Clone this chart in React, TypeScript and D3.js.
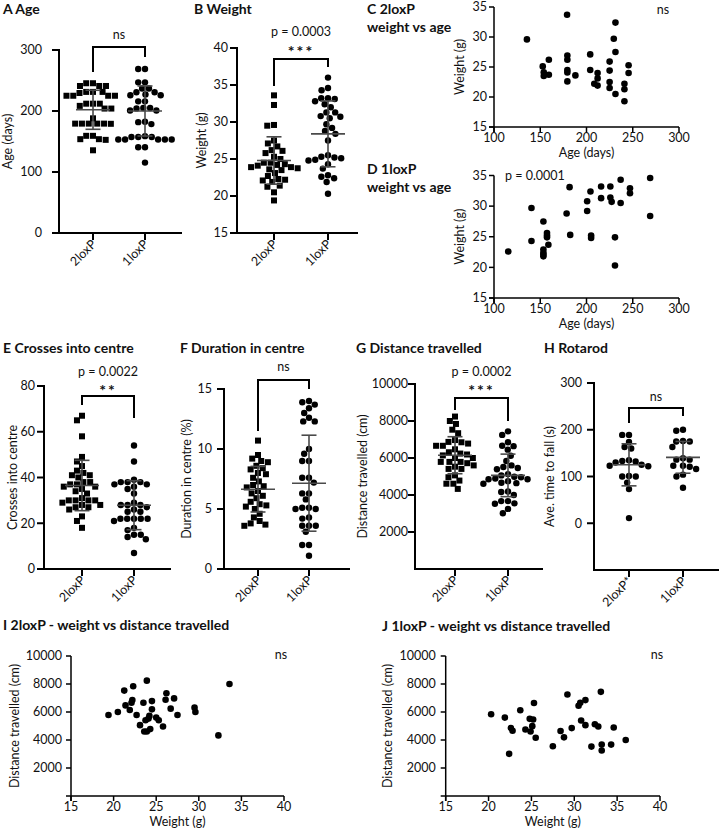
import React from "react";
import * as d3 from "d3";

const FONT = "Lato, 'Open Sans', Arial, sans-serif";

// ---------- categories ----------
const groups = ["2loxP", "1loxP"];
const groupsRotarod = ["2loxP*", "1loxP"];

// ---------- C: 2loxP weight vs age ----------
const ageC2 = [135.6, 179, 152.7, 153.8, 153.8, 159.3, 159.3, 179.3, 179.3, 179.3, 179.3, 179.3, 188, 204, 204, 208.4, 212, 212, 212, 225, 225, 225, 225, 229.5, 231.3, 231.3, 231.3, 241, 241, 241, 245.5, 245.5];
const weightC2 = [29.6, 33.7, 25.1, 24.1, 23.5, 23.7, 26.2, 26.9, 26.2, 24.5, 24.1, 22.6, 23.6, 27.1, 24.5, 22.2, 24.0, 23.1, 21.9, 25.9, 24.4, 22.5, 21.5, 29.7, 32.4, 27.5, 20.5, 22.2, 21.3, 19.3, 25.3, 24.0];

// ---------- D: 1loxP weight vs age ----------
const ageD1 = [115.4, 140.5, 140.5, 153.4, 153.4, 153.4, 153.4, 153.4, 157.3, 157.3, 157.3, 158.8, 178.5, 181.7, 182.4, 200.7, 200.7, 204.3, 205, 205, 215.8, 215.8, 225.8, 225.8, 227.2, 230.8, 230.8, 236.9, 236.9, 247, 247, 268.8, 268.8];
const weightD1 = [22.6, 29.7, 24.3, 27.5, 22.9, 22.4, 22.1, 21.8, 25.6, 25.2, 24.9, 23.7, 28.8, 33.1, 25.3, 30.8, 29.2, 32.4, 25.2, 24.8, 33.2, 31.3, 33.2, 31.4, 30.7, 24.9, 20.3, 34.3, 30.5, 32.9, 32.1, 34.6, 28.4];

// ---------- I: 2loxP weight vs distance ----------
const weightI2 = [19.4, 20.5, 21.25, 21.4, 21.9, 22.1, 22.2, 22.3, 22.7, 23.1, 23.5, 23.6, 23.75, 23.9, 23.9, 24.1, 24.2, 24.3, 24.5, 24.5, 25.0, 25.3, 25.8, 26.1, 26.2, 26.7, 27.1, 27.5, 29.5, 29.6, 32.3, 33.6];
const distI2 = [5790, 6000, 7530, 6470, 6140, 6660, 6850, 7840, 5790, 5060, 6660, 4610, 5410, 4610, 8240, 5530, 5720, 4780, 6780, 6190, 5600, 5410, 4960, 6870, 7340, 6240, 6970, 5790, 6310, 6000, 4330, 8000];

// ---------- J: 1loxP weight vs distance ----------
const weightJ1 = [20.3, 21.9, 22.4, 22.6, 22.8, 23.7, 24.3, 24.8, 24.9, 25.1, 25.2, 25.3, 25.5, 27.5, 28.4, 28.8, 29.2, 29.7, 30.5, 30.7, 30.8, 31.3, 31.3, 32.0, 32.4, 32.8, 33.1, 33.2, 33.2, 34.3, 34.6, 36.0];
const distJ1 = [5840, 5600, 3010, 4850, 4660, 6120, 4750, 5510, 4610, 4990, 5460, 6640, 4160, 3550, 4640, 4190, 7250, 4850, 6450, 6660, 5390, 6850, 5060, 3530, 5130, 4960, 7440, 3670, 3250, 3670, 4890, 4000];

// ---------- E, F, H dot plot values ----------
const crosses2 = [67, 65, 58, 49, 47, 45, 43, 42, 41, 41, 40, 38, 38, 37, 37, 36, 36, 35, 34, 33, 31, 30, 30, 30, 30, 29, 28, 28, 27, 27, 26, 23, 21, 18];
const crosses1 = [54, 47, 39, 38, 38, 38, 37, 37, 36, 35, 33, 29, 28, 28, 28, 27, 26, 25, 25, 22, 22, 22, 22, 22, 21, 18, 17, 15, 15, 14, 13, 7];
const duration2 = [10.7, 9.5, 9.2, 9.0, 8.9, 8.6, 8.4, 8.3, 8.0, 7.9, 7.6, 7.3, 7.0, 6.9, 6.8, 6.5, 6.3, 6.1, 5.9, 5.6, 5.4, 5.3, 5.2, 5.0, 4.6, 4.3, 4.0, 3.8, 3.7, 3.6];
const duration1 = [14.0, 13.9, 13.7, 13.4, 13.0, 12.6, 12.3, 12.3, 10.0, 9.6, 9.0, 9.0, 7.6, 7.6, 7.2, 6.3, 6.3, 5.8, 5.1, 5.1, 5.0, 5.0, 4.3, 4.2, 3.6, 3.6, 3.6, 3.1, 2.0, 2.0, 1.1];
const rotarod2 = [189, 189, 174, 163, 160, 135, 133, 132, 130, 125, 123, 122, 101, 100, 100, 87, 73, 11];
const rotarod1 = [200, 198, 176, 175, 175, 163, 139, 136, 136, 123, 123, 121, 116, 104, 100, 76];

// ---------- mean ± SD ----------
const ageMean = [202, 200];
const ageSD = [32, 41];
const weightMean = [24.8, 28.4];
const weightSD = [3.2, 4.45];
const crossesMean = [36.5, 27.9];
const crossesSD = [11, 10.7];
const durationMean = [6.65, 7.15];
const durationSD = [1.9, 4.0];
const distMean = [6150, 5060];
const distSD = [1000, 1150];
const rotarodMean = [125, 141];
const rotarodSD = [45, 34];

// ---------- ticks ----------
const ageTicks = [0, 100, 200, 300];
const weightTicks = [15, 20, 25, 30, 35, 40];
const crossesTicks = [0, 20, 40, 60, 80];
const durationTicks = [0, 5, 10, 15];
const distTicks = [2000, 4000, 6000, 8000, 10000];
const rotarodTicks = [0, 100, 200, 300];
const scAgeTicks = [100, 150, 200, 250, 300];
const scWeightYTicks = [15, 20, 25, 30, 35];
const scWeightXTicks = [15, 20, 25, 30, 35, 40];
const scDistTicks = [2000, 4000, 6000, 8000, 10000];

function swarmOffsets(values: number[], y: (v: number) => number, d: number): number[] {
  const idx = values.map((_, i) => i).sort((a, b) => values[b] - values[a]);
  const placed: { x: number; y: number }[] = [];
  const offs = new Array(values.length).fill(0);
  for (const i of idx) {
    const py = y(values[i]);
    const iv: [number, number][] = [];
    for (const p of placed) {
      const dy = Math.abs(p.y - py);
      if (dy < d) {
        const dx = Math.sqrt(d * d - dy * dy);
        iv.push([p.x - dx, p.x + dx]);
      }
    }
    const cands = [0, ...iv.flatMap(([a, b]) => [a, b])].sort((a, b) => Math.abs(a) - Math.abs(b) || a - b);
    let best = 0;
    for (const c of cands) {
      if (iv.every(([a, b]) => c <= a + 1e-6 || c >= b - 1e-6)) {
        best = c;
        break;
      }
    }
    offs[i] = best;
    placed.push({ x: best, y: py });
  }
  return offs;
}

type DotProps = {
  title: string; titleX: number; titleY: number;
  left: number; right: number; top: number; bottom: number;
  domain: [number, number]; ticks: number[];
  cats: string[]; catRange: [number, number];
  data: number[][]; means: number[]; sds: number[];
  shapes: string[];
  ylabel: string; ylabelX: number;
  labelGap: number;
  bracketTop: number; legs: [number, number];
  texts: { t: string; y: number; bold?: boolean; size?: number }[];
};

function DotPlot(p: DotProps) {
  const y = d3.scaleLinear().domain(p.domain).range([p.bottom, p.top]);
  const x = d3.scalePoint<string>().domain(p.cats).range(p.catRange);
  const axisY = p.bottom;
  const mid = ((x(p.cats[0]) as number) + (x(p.cats[1]) as number)) / 2;
  return (
    <g>
      <text x={p.titleX} y={p.titleY} fontWeight="bold" fontSize={14}>{p.title}</text>
      <line x1={p.left} x2={p.left} y1={p.top - 1} y2={axisY + 1} stroke="#000" strokeWidth={2} />
      <line x1={p.left - 1} x2={p.right} y1={axisY} y2={axisY} stroke="#000" strokeWidth={2} />
      {p.ticks.map((t) => (
        <g key={t}>
          <line x1={p.left - 7} x2={p.left} y1={y(t)} y2={y(t)} stroke="#000" strokeWidth={2} />
          <text x={p.left - p.labelGap} y={y(t) + 4.3} textAnchor="end" fontSize={12.5}>{t}</text>
        </g>
      ))}
      <text transform={`translate(${p.ylabelX},${(p.top + axisY) / 2}) rotate(-90)`} textAnchor="middle" fontSize={12.5}>{p.ylabel}</text>
      {p.cats.map((c) => (
        <g key={c}>
          <line x1={x(c)} x2={x(c)} y1={axisY} y2={axisY + 7} stroke="#000" strokeWidth={2} />
          <text transform={`translate(${(x(c) as number) + 4},${axisY + 12}) rotate(-45)`} textAnchor="end" fontSize={12.5}>{c}</text>
        </g>
      ))}
      {p.data.map((vals, gi) => {
        const offs = swarmOffsets(vals, y, 6.8);
        const cx = x(p.cats[gi]) as number;
        return vals.map((v, i) =>
          p.shapes[gi] === "square" ? (
            <rect key={gi + "-" + i} x={cx + offs[i] - 3} y={y(v) - 3} width={6} height={6} fill="#000" />
          ) : (
            <circle key={gi + "-" + i} cx={cx + offs[i]} cy={y(v)} r={3.2} fill="#000" />
          )
        );
      })}
      {p.means.map((m, gi) => {
        const cx = x(p.cats[gi]) as number;
        const s = p.sds[gi];
        return (
          <g key={"m" + gi} stroke="#4a4a4a" strokeWidth={1.6}>
            <line x1={cx - 17} x2={cx + 17} y1={y(m)} y2={y(m)} />
            <line x1={cx} x2={cx} y1={y(m - s)} y2={y(m + s)} />
            <line x1={cx - 7.5} x2={cx + 7.5} y1={y(m + s)} y2={y(m + s)} />
            <line x1={cx - 7.5} x2={cx + 7.5} y1={y(m - s)} y2={y(m - s)} />
          </g>
        );
      })}
      <path
        d={`M${x(p.cats[0])},${p.legs[0]}V${p.bracketTop}H${x(p.cats[1])}V${p.legs[1]}`}
        fill="none" stroke="#000" strokeWidth={2}
      />
      {p.texts.map((t, i) => (
        <text key={i} x={mid} y={t.y} textAnchor="middle" fontWeight={t.bold ? "bold" : "normal"} fontSize={t.size ?? 12.5} letterSpacing={t.bold ? 2 : 0}>{t.t}</text>
      ))}
    </g>
  );
}

type ScProps = {
  titles: string[]; titleX: number; titleY: number;
  left: number; right: number; top: number; bottom: number;
  xDomain: [number, number]; yDomain: [number, number];
  xTicks: number[]; yTicks: number[];
  xs: number[]; ys: number[];
  xlabel: string; ylabel: string; ylabelX: number;
  note: string; noteX: number; noteY: number; noteAnchor: string;
  yLabelGap: number;
};

function Scatter(p: ScProps) {
  const x = d3.scaleLinear().domain(p.xDomain).range([p.left, p.right]);
  const y = d3.scaleLinear().domain(p.yDomain).range([p.bottom, p.top]);
  return (
    <g>
      {p.titles.map((t, i) => (
        <text key={i} x={p.titleX} y={p.titleY + i * 18} fontWeight="bold" fontSize={14}>{t}</text>
      ))}
      <line x1={p.left} x2={p.left} y1={p.top} y2={p.bottom + 5} stroke="#000" strokeWidth={1.5} />
      <line x1={p.left - 5} x2={p.right} y1={p.bottom} y2={p.bottom} stroke="#000" strokeWidth={1.5} />
      {p.yTicks.map((t) => (
        <g key={"y" + t}>
          <line x1={p.left - 5} x2={p.left} y1={y(t)} y2={y(t)} stroke="#000" strokeWidth={1.5} />
          <text x={p.left - p.yLabelGap} y={y(t) + 4.3} textAnchor="end" fontSize={12.5}>{t}</text>
        </g>
      ))}
      {p.xTicks.map((t) => (
        <g key={"x" + t}>
          <line x1={x(t)} x2={x(t)} y1={p.bottom} y2={p.bottom + 5} stroke="#000" strokeWidth={1.5} />
          <text x={x(t)} y={p.bottom + 15} textAnchor="middle" fontSize={12.5}>{t}</text>
        </g>
      ))}
      <text x={(p.left + p.right) / 2} y={p.bottom + 29.5} textAnchor="middle" fontSize={12.5}>{p.xlabel}</text>
      <text transform={`translate(${p.ylabelX},${(p.top + p.bottom) / 2}) rotate(-90)`} textAnchor="middle" fontSize={12.5}>{p.ylabel}</text>
      {p.xs.map((v, i) => (
        <circle key={i} cx={x(v)} cy={y(p.ys[i])} r={3.3} fill="#000" />
      ))}
      <text x={p.noteX} y={p.noteY} textAnchor={p.noteAnchor} fontSize={12.5}>{p.note}</text>
    </g>
  );
}

export default function App() {
  return (
    <svg
      width={722}
      height={833}
      viewBox="0 0 722 833"
      style={{ position: "absolute", left: 0, top: 0, background: "#fff", fontFamily: FONT }}
      fill="#111"
    >
      <rect width={722} height={833} fill="#fff" />
      <DotPlot
        title="A Age" titleX={3} titleY={14}
        left={59} right={182} top={50} bottom={233}
        domain={[0, 300]} ticks={ageTicks}
        cats={groups} catRange={[93, 145]}
        data={[ageC2, ageD1]} means={ageMean} sds={ageSD}
        shapes={["square", "circle"]}
        ylabel="Age (days)" ylabelX={12} labelGap={17}
        bracketTop={47} legs={[72, 57]}
        texts={[{ t: "ns", y: 39 }]}
      />
      <DotPlot
        title="B Weight" titleX={194} titleY={14}
        left={237} right={358} top={48} bottom={233}
        domain={[15, 40]} ticks={weightTicks}
        cats={groups} catRange={[274, 328]}
        data={[weightI2, weightJ1]} means={weightMean} sds={weightSD}
        shapes={["square", "circle"]}
        ylabel="Weight (g)" ylabelX={206} labelGap={9}
        bracketTop={59} legs={[86, 67]}
        texts={[{ t: "p = 0.0003", y: 36 }, { t: "***", y: 57, bold: true, size: 16 }]}
      />
      <Scatter
        titles={["C 2loxP", "weight vs age"]} titleX={367} titleY={14}
        left={494} right={679} top={7} bottom={127}
        xDomain={[100, 300]} yDomain={[15, 35]}
        xTicks={scAgeTicks} yTicks={scWeightYTicks}
        xs={ageC2} ys={weightC2}
        xlabel="Age (days)" ylabel="Weight (g)" ylabelX={464}
        note="ns" noteX={663} noteY={14} noteAnchor="middle" yLabelGap={7}
      />
      <Scatter
        titles={["D 1loxP", "weight vs age"]} titleX={367} titleY={174}
        left={494} right={679} top={175.5} bottom={298}
        xDomain={[100, 300]} yDomain={[15, 35]}
        xTicks={scAgeTicks} yTicks={scWeightYTicks}
        xs={ageD1} ys={weightD1}
        xlabel="Age (days)" ylabel="Weight (g)" ylabelX={464}
        note="p = 0.0001" noteX={505} noteY={180} noteAnchor="start" yLabelGap={7}
      />
      <DotPlot
        title="E Crosses into centre" titleX={3} titleY={353}
        left={44} right={171} top={386} bottom={569}
        domain={[0, 80]} ticks={crossesTicks}
        cats={groups} catRange={[82, 134]}
        data={[crosses2, crosses1]} means={crossesMean} sds={crossesSD}
        shapes={["square", "circle"]}
        ylabel="Crosses into centre" ylabelX={17} labelGap={9}
        bracketTop={396} legs={[405, 418]}
        texts={[{ t: "p = 0.0022", y: 376 }, { t: "**", y: 396, bold: true, size: 16 }]}
      />
      <DotPlot
        title="F Duration in centre" titleX={180} titleY={353}
        left={224} right={350} top={389} bottom={569}
        domain={[0, 15]} ticks={durationTicks}
        cats={groups} catRange={[258, 309]}
        data={[duration2, duration1]} means={durationMean} sds={durationSD}
        shapes={["square", "circle"]}
        ylabel="Duration in centre (%)" ylabelX={191} labelGap={12}
        bracketTop={380} legs={[431, 389]}
        texts={[{ t: "ns", y: 371 }]}
      />
      <DotPlot
        title="G Distance travelled" titleX={356} titleY={353}
        left={415} right={543} top={384} bottom={569}
        domain={[0, 10000]} ticks={distTicks}
        cats={groups} catRange={[455, 508]}
        data={[distI2, distJ1]} means={distMean} sds={distSD}
        shapes={["square", "circle"]}
        ylabel="Distance travelled (cm)" ylabelX={367} labelGap={7}
        bracketTop={398} legs={[410, 421]}
        texts={[{ t: "p = 0.0002", y: 376 }, { t: "***", y: 396, bold: true, size: 16 }]}
      />
      <DotPlot
        title="H Rotarod" titleX={544} titleY={353}
        left={594} right={719} top={383} bottom={570}
        domain={[-100, 300]} ticks={rotarodTicks}
        cats={groupsRotarod} catRange={[629, 683]}
        data={[rotarod2, rotarod1]} means={rotarodMean} sds={rotarodSD}
        shapes={["circle", "circle"]}
        ylabel="Ave. time to fall (s)" ylabelX={554} labelGap={12}
        bracketTop={408} legs={[423, 416]}
        texts={[{ t: "ns", y: 401 }]}
      />
      <Scatter
        titles={["I 2loxP - weight vs distance travelled"]} titleX={3} titleY={630}
        left={71} right={284} top={656} bottom={796}
        xDomain={[15, 40]} yDomain={[0, 10000]}
        xTicks={scWeightXTicks} yTicks={scDistTicks}
        xs={weightI2} ys={distI2}
        xlabel="Weight (g)" ylabel="Distance travelled (cm)" ylabelX={19}
        note="ns" noteX={281} noteY={659} noteAnchor="middle" yLabelGap={9}
      />
      <Scatter
        titles={["J 1loxP - weight vs distance travelled"]} titleX={382} titleY={631}
        left={445.7} right={660} top={656} bottom={796}
        xDomain={[15, 40]} yDomain={[0, 10000]}
        xTicks={scWeightXTicks} yTicks={scDistTicks}
        xs={weightJ1} ys={distJ1}
        xlabel="Weight (g)" ylabel="Distance travelled (cm)" ylabelX={392}
        note="ns" noteX={657} noteY={659} noteAnchor="middle" yLabelGap={10}
      />
    </svg>
  );
}
